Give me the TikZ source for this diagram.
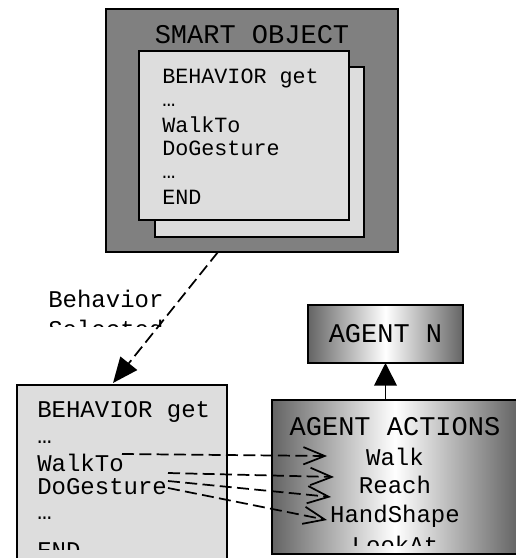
\documentclass[tikz,border=0pt]{standalone}
\usepackage{fontspec}
\setmonofont{Liberation Mono}
\usetikzlibrary{arrows.meta}

\definecolor{objgray}{RGB}{128,128,128}
\definecolor{pagegray}{RGB}{221,221,221}
\definecolor{shadegray}{RGB}{100,100,100}

\tikzset{
  box/.style={draw=black, line width=1.2pt},
  page/.style={box, fill=pagegray},
  agentbox/.style={box, left color=shadegray, right color=shadegray, middle color=white},
  titletext/.style={font=\ttfamily\fontsize{20.25}{24}\selectfont, inner sep=0pt, anchor=base},
  smallcode/.style={font=\ttfamily\fontsize{16.3}{20}\selectfont, inner sep=0pt, anchor=base west},
  bigcode/.style={font=\ttfamily\fontsize{18}{22}\selectfont, inner sep=0pt, anchor=base west},
  actiontext/.style={font=\ttfamily\fontsize{18}{22}\selectfont, inner sep=0pt, anchor=base},
  calllink/.style={line width=1.3pt, dash pattern=on 9pt off 4pt, -{Straight Barb[length=16pt,width=13pt]}},
  selectlink/.style={line width=1.3pt, dash pattern=on 9pt off 4pt, -{Triangle[length=19pt,width=16pt]}},
  uplink/.style={line width=1.3pt, -{Triangle[length=17pt,width=17pt]}}
}

\begin{document}
\begin{tikzpicture}[x=0.75pt,y=0.75pt,yscale=-1,xscale=1]
\useasboundingbox (0,0) rectangle (516,558);
\clip (0,0) rectangle (516,558);

%Smart object with its two pages
\draw [box, fill=objgray] (106,9) rectangle (398,252);
\draw [page] (155,67) rectangle (364,237);
\draw [page] (139,51) rectangle (349,220);

% Text Node
\node (smarttitle) [titletext] at (252,43) {SMART OBJECT};
% Text Node
\node (getA) [smallcode] at (162,83) {BEHAVIOR get};
\node (dotsA) [smallcode] at (162,106) {…};
\node (walktoA) [smallcode] at (162,132) {WalkTo};
\node (gestureA) [smallcode] at (162,155) {DoGesture};
\node (dotsAA) [smallcode] at (162,178) {…};
\node (endA) [smallcode] at (162,204) {END};

%Selected behavior (bottom left)
\draw [page] (17,385) rectangle (227,600);
\begin{scope}
\clip (17,385) rectangle (227,549);
\node (getB) [bigcode] at (37,417) {BEHAVIOR get};
\node (dotsB) [bigcode] at (37,443) {…};
\node (walktoB) [bigcode] at (37,471) {WalkTo};
\node (gestureB) [bigcode] at (37,494) {DoGesture};
\node (dotsBB) [bigcode] at (37,519) {…};
\node (endB) [bigcode] at (37,558) {END};
\end{scope}

% Text Node
\node (selA) [bigcode] at (48,307) {Behavior};
\begin{scope}
\clip (0,310) rectangle (220,326);
\node (selB) [bigcode] at (48,337) {Selected};
\end{scope}

%Agent boxes
\draw [agentbox] (308,305) rectangle (463,363);
\node (agentn) [titletext] at (385.5,342) {AGENT N};
\draw [agentbox] (272,400) rectangle (518,554);
\node (actions) [titletext] at (395,435) {AGENT ACTIONS};
\node (walk) [actiontext] at (395,465) {Walk};
\node (reach) [actiontext] at (395,493) {Reach};
\node (handshape) [actiontext] at (395,522) {HandShape};
\begin{scope}
\clip (272,400) rectangle (518,545);
\node (lookat) [actiontext] at (395,553) {LookAt};
\end{scope}

%Connectors
\coordinate (objout) at (218,252);
\coordinate (behin) at (113,383);
\draw [selectlink] (objout) -- (behin);

\coordinate (actout) at (385.5,400);
\coordinate (agentin) at (385.5,363);
\draw [uplink] (actout) -- (agentin);

\coordinate (walkfrom) at (122,454);
\coordinate (walkto) at (327,456);
\coordinate (gestfromA) at (168,473);
\coordinate (gestfromB) at (168,481);
\coordinate (gestfromC) at (168,488);
\coordinate (reachto) at (334,477);
\coordinate (reachtoB) at (331,497);
\coordinate (handto) at (327,520);
\draw [calllink] (walkfrom) -- (walkto);
\draw [calllink] (gestfromA) -- (reachto);
\draw [calllink] (gestfromB) -- (reachtoB);
\draw [calllink] (gestfromC) -- (handto);

\end{tikzpicture}
\end{document}
